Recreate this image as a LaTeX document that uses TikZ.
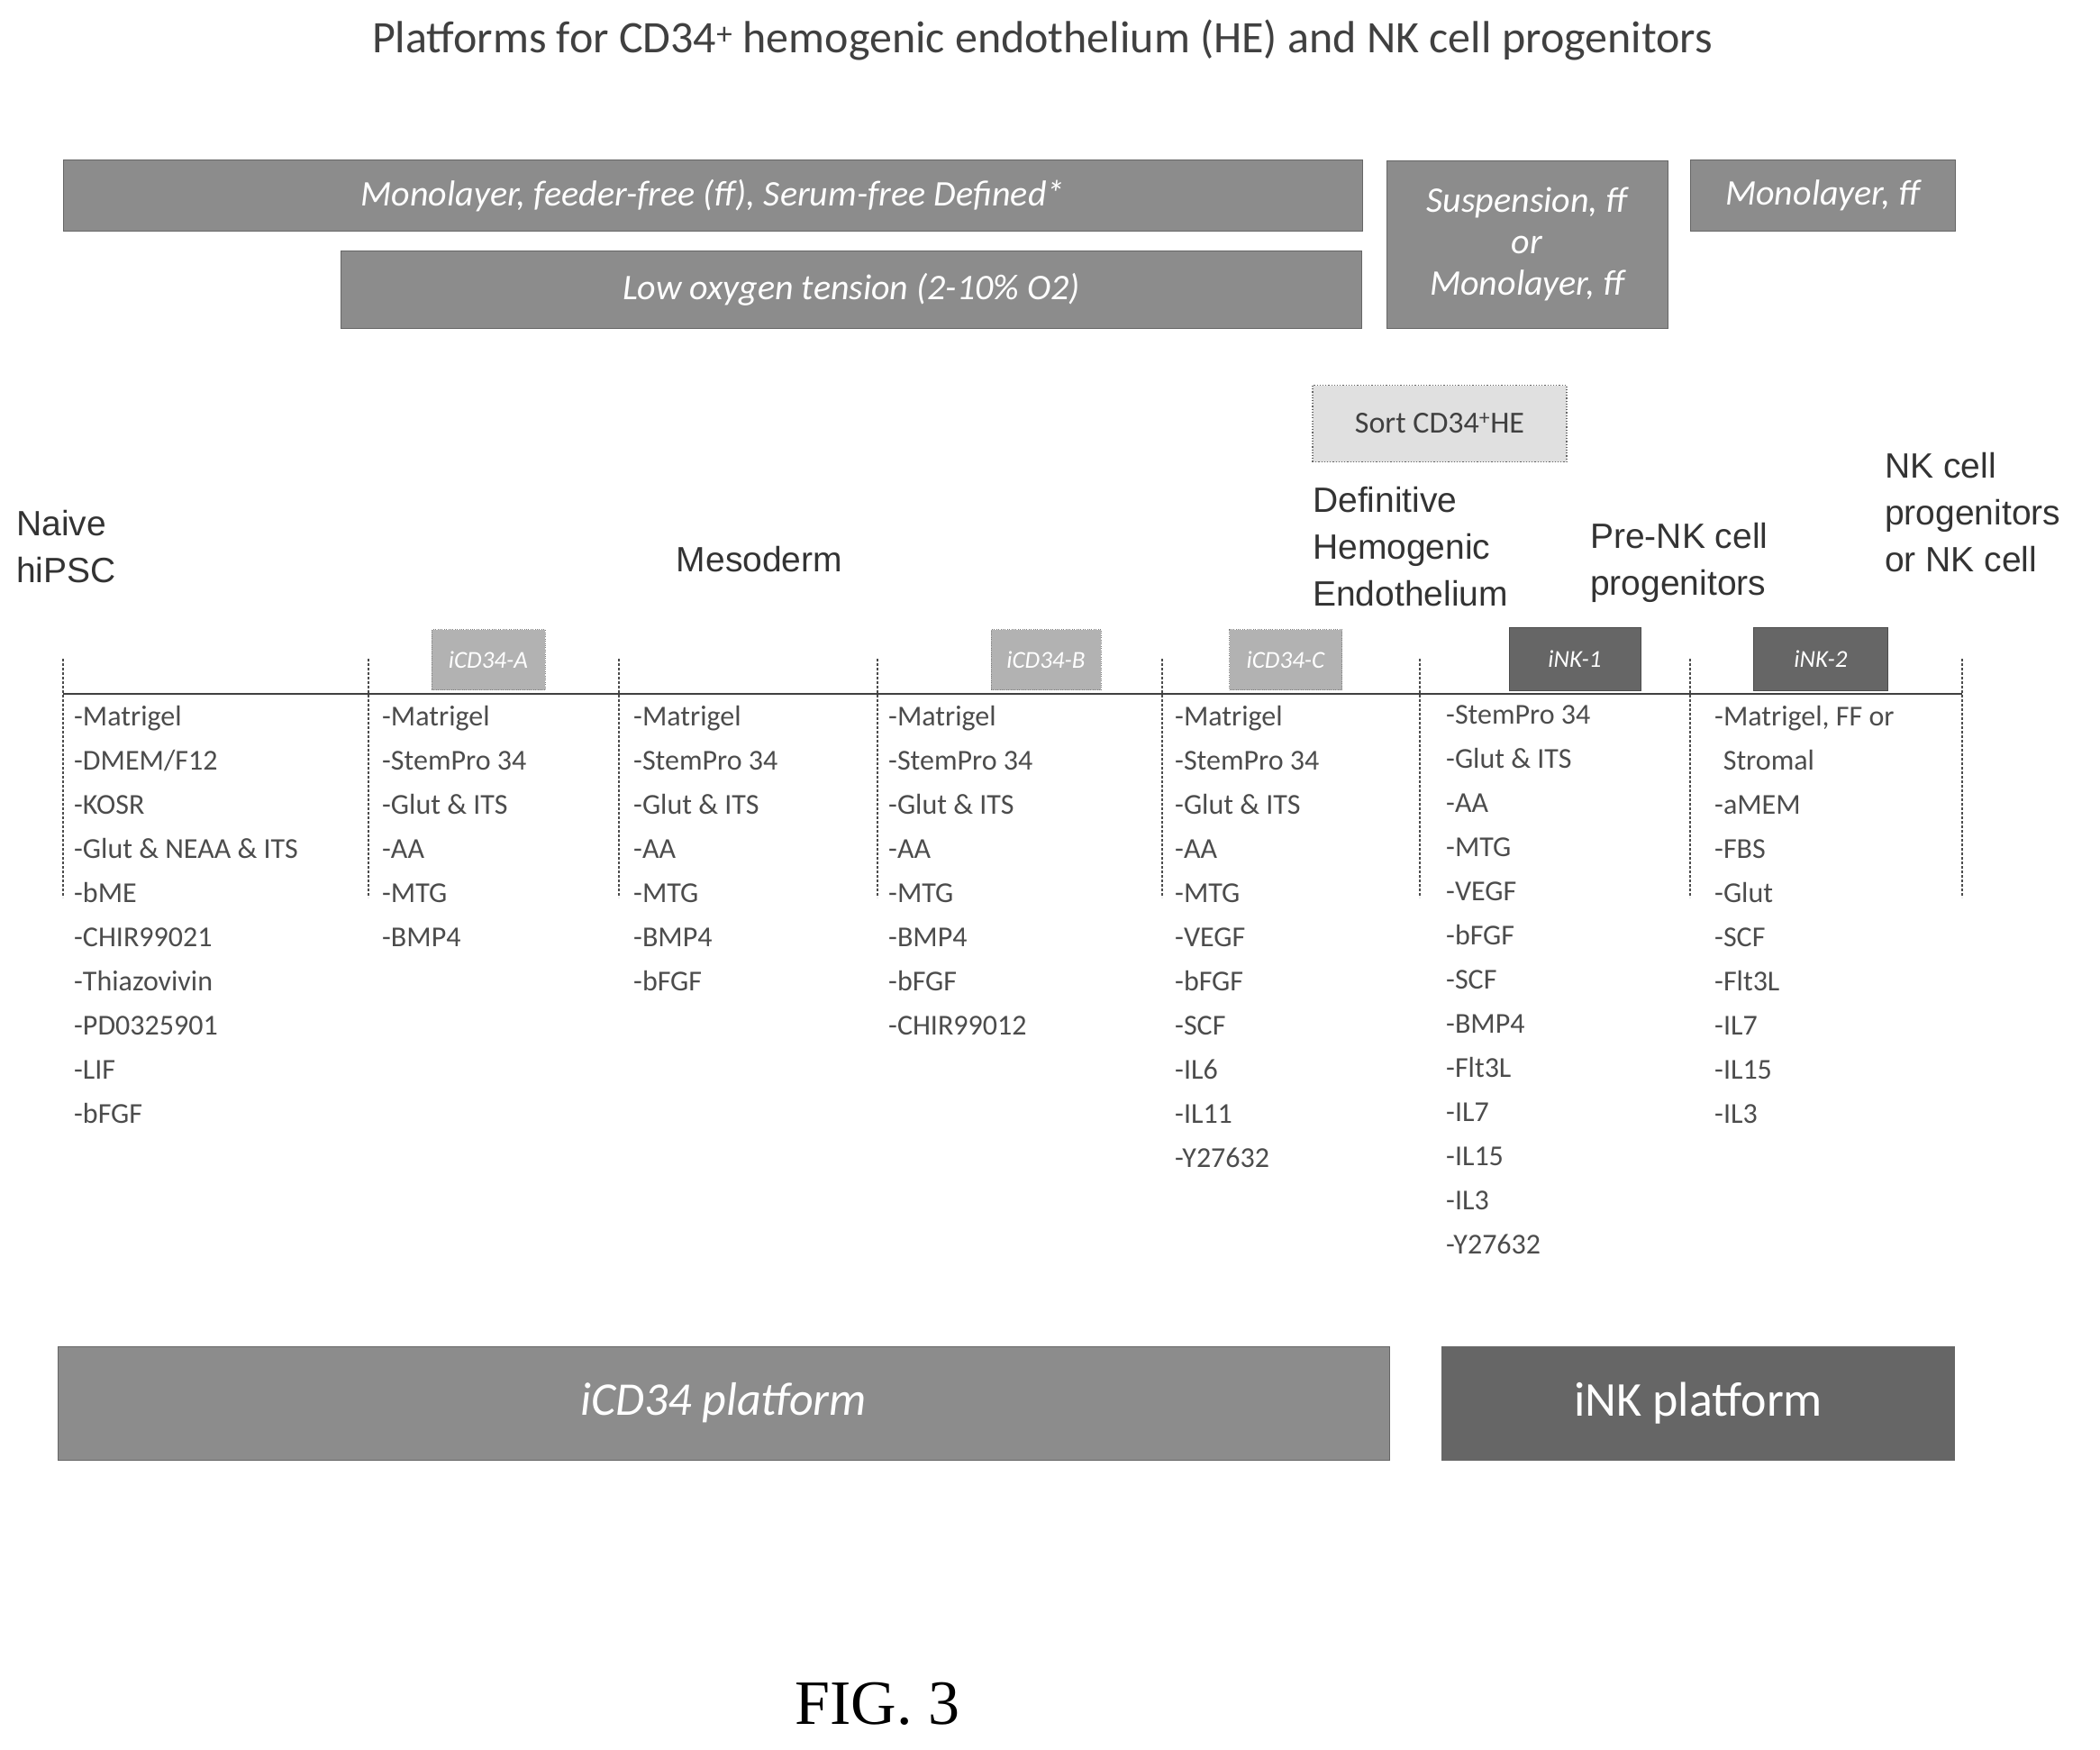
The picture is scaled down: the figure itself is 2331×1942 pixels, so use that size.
\documentclass[tikz,border=0pt]{standalone}
\usepackage{fontspec}
\setmainfont{Carlito}
\newfontfamily\arialf{Liberation Sans}
\newfontfamily\timesf{Liberation Serif}
\begin{document}
\begin{tikzpicture}[x=1pt,y=-1pt,
 gbox/.style={fill=black!45,draw=black!60,text=white,font=\itshape\fontsize{40}{46}\selectfont,align=center,inner sep=0pt},
 tag/.style={fill=black!30,draw=black!50,dotted,text=white,font=\itshape\fontsize{27}{30}\selectfont,inner sep=0pt},
 dtag/.style={fill=black!60,draw=black!70,text=white,font=\itshape\fontsize{27}{30}\selectfont,inner sep=0pt},
 lbl/.style={font=\arialf\fontsize{39}{52}\selectfont,text=black!80,align=left,inner sep=0pt},
 lst/.style={font=\fontsize{32}{49}\selectfont,text=black!70,align=left,inner sep=0pt,anchor=north west},
 tick/.style={densely dashed,black!70,line width=1.2pt}]
\useasboundingbox (0,0) rectangle (2331,1942);
\node[font=\fontsize{50}{54}\selectfont,text=black!75] (title) at (1157,45) {Platforms for CD34\textsuperscript{+} hemogenic endothelium (HE) and NK cell progenitors};
\node[gbox,minimum width=1442,minimum height=79] (b1) at (791,217) {Monolayer, feeder-free (ff), Serum-free Defined*};
\node[gbox,minimum width=1133,minimum height=86] (b2) at (945,321) {Low oxygen tension (2-10\% O2)};
\node[gbox,minimum width=312,minimum height=186] (b3) at (1695,271) {Suspension, ff\\or\\Monolayer, ff};
\node[gbox,minimum width=294,minimum height=79] (b4) at (2023,217) {Monolayer, ff};
\node[fill=black!12,draw=black!60,dotted,line width=1.2pt,minimum width=282,minimum height=85,font=\fontsize{34}{38}\selectfont,text=black!75] (sort) at (1598,470) {Sort CD34\textsuperscript{+}HE};
\node[lbl,anchor=north west] (l1) at (18,566) {Naive\\hiPSC};
\node[lbl] (l2) at (843,621) {Mesoderm};
\node[lbl,anchor=north west] (l3) at (1457,540) {Definitive\\Hemogenic\\Endothelium};
\node[lbl,anchor=north west] (l4) at (1765,580) {Pre-NK cell\\progenitors};
\node[lbl,anchor=north west] (l5) at (2092,502) {NK cell\\progenitors\\or NK cell};
\coordinate (hl) at (70,770); \coordinate (hr) at (2178,770);
\draw[black!75,line width=1.5pt] (hl) -- (hr);
\foreach \x/\a/\b in {70/731/996,409/731/996,687/731/996,974/731/996,1290/731/996,1576/731/996,1876/731/996,2178/731/996}{
 \coordinate (ta\x) at (\x,\a); \coordinate (tb\x) at (\x,\b);
 \draw[tick] (ta\x) -- (tb\x);}
\node[tag,minimum width=126,minimum height=67] (ta) at (542,732) {iCD34-A};
\node[tag,minimum width=122,minimum height=67] (tb) at (1161,732) {iCD34-B};
\node[tag,minimum width=125,minimum height=67] (tc) at (1427,732) {iCD34-C};
\node[dtag,minimum width=146,minimum height=70] (tn1) at (1748,731) {iNK-1};
\node[dtag,minimum width=149,minimum height=70] (tn2) at (2021,731) {iNK-2};
\node[lst] (c1) at (82,783) {-Matrigel\\-DMEM/F12\\-KOSR\\-Glut \& NEAA \& ITS\\-bME\\-CHIR99021\\-Thiazovivin\\-PD0325901\\-LIF\\-bFGF};
\node[lst] (c2) at (424,783) {-Matrigel\\-StemPro 34\\-Glut \& ITS\\-AA\\-MTG\\-BMP4};
\node[lst] (c3) at (703,783) {-Matrigel\\-StemPro 34\\-Glut \& ITS\\-AA\\-MTG\\-BMP4\\-bFGF};
\node[lst] (c4) at (986,783) {-Matrigel\\-StemPro 34\\-Glut \& ITS\\-AA\\-MTG\\-BMP4\\-bFGF\\-CHIR99012};
\node[lst] (c5) at (1304,783) {-Matrigel\\-StemPro 34\\-Glut \& ITS\\-AA\\-MTG\\-VEGF\\-bFGF\\-SCF\\-IL6\\-IL11\\-Y27632};
\node[lst] (c6) at (1605,783) {-StemPro 34\\-Glut \& ITS\\-AA\\-MTG\\-VEGF\\-bFGF\\-SCF\\-BMP4\\-Flt3L\\-IL7\\-IL15\\-IL3\\-Y27632};
\node[lst] (c7) at (1903,783) {-Matrigel, FF or\\\hspace*{0.3em}Stromal\\-aMEM\\-FBS\\-Glut\\-SCF\\-Flt3L\\-IL7\\-IL15\\-IL3};
\node[gbox,minimum width=1478,minimum height=126,font=\itshape\fontsize{52}{56}\selectfont] (p1) at (803,1557) {iCD34 platform};
\node[gbox,fill=black!60,minimum width=569,minimum height=126,font=\fontsize{54}{58}\selectfont] (p2) at (1885,1557) {iNK platform};
\node[font=\timesf\fontsize{70}{74}\selectfont] (fig) at (974,1891) {FIG. 3};
\end{tikzpicture}
\end{document}
